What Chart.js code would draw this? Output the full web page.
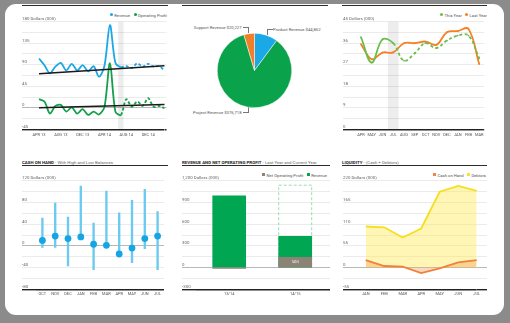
<!DOCTYPE html>
<html>
<head>
<meta charset="utf-8">
<script src="https://cdn.jsdelivr.net/npm/chart.js@4.4.1/dist/chart.umd.min.js"></script>
<style>
html, body { margin: 0; padding: 0; }
body { width: 510px; height: 323px; background: #8b8b8b; position: relative; overflow: hidden; font-family: Roboto, "Liberation Sans", sans-serif; }
#frame { position: absolute; left: 0; top: 0; width: 510px; height: 323px; background: #fff; clip-path: inset(4px 6px 8px 5px round 11px); }
canvas { position: absolute; }
.ttl { position: absolute; font-size: 4.4px; line-height: 5px; color: #666; white-space: nowrap; }
.ttl b { color: #222; }
.rule { position: absolute; height: 1.3px; background: #2b2b2b; }
.leg { position: absolute; font-size: 4.2px; line-height: 5px; color: #555; white-space: nowrap; }
.leg i { display: inline-block; width: 3px; height: 3px; border-radius: 50%; margin: 0 1.2px 0 3.5px; vertical-align: 0.1px; }
.leg i.sq { border-radius: 0; }
.pl { position: absolute; font-size: 4.2px; line-height: 5px; color: #555; white-space: nowrap; }
.ln { position: absolute; border-color: #777; border-style: solid; border-width: 0; }
</style>
</head>
<body>
<div id="frame">
  <!-- top row headers (cut by the frame) -->
  <div class="ttl" style="left:22px;top:0.3px"><b>REVENUE AND PROFIT</b> - Trend</div>
  <div class="rule" style="left:22px;top:5px;width:146px"></div>
  <div class="ttl" style="left:182px;top:0.3px"><b>REVENUE BY TYPE</b> - This Year</div>
  <div class="rule" style="left:182px;top:5px;width:146px"></div>
  <div class="ttl" style="left:343px;top:0.3px"><b>REVENUE</b> - This Year and Last Year</div>
  <div class="rule" style="left:342px;top:5px;width:145px"></div>

  <div class="leg" style="right:343px;top:12.5px"><i style="background:#1ca7e6"></i>Revenue<i style="background:#13a049"></i>Operating Profit</div>
  <div class="leg" style="right:23px;top:12.5px"><i style="background:#6abf4b"></i>This Year<i style="background:#f58025"></i>Last Year</div>

  <!-- pie callouts -->
  <div class="pl" style="right:268.5px;top:24.8px">Support Revenue $20,227</div>
  <div class="ln" style="left:242.5px;top:27.3px;width:5.5px;height:5px;border-top-width:0.6px;border-right-width:0.6px"></div>
  <div class="pl" style="left:273px;top:26.5px">Product Revenue $44,852</div>
  <div class="ln" style="left:266.5px;top:29px;width:5px;height:5px;border-top-width:0.6px;border-left-width:0.6px"></div>
  <div class="pl" style="right:268.5px;top:109.8px">Project Revenue $376,718</div>
  <div class="ln" style="left:242.5px;top:107px;width:5px;height:5.3px;border-bottom-width:0.6px;border-right-width:0.6px"></div>

  <!-- bottom row headers -->
  <div class="ttl" style="left:22px;top:159.8px"><b>CASH ON HAND</b> - With High and Low Balances</div>
  <div class="rule" style="left:22px;top:164.5px;width:146px"></div>
  <div class="ttl" style="left:182px;top:159.8px"><b>REVENUE AND NET OPERATING PROFIT</b> - Last Year and Current Year</div>
  <div class="rule" style="left:182px;top:164.5px;width:148px"></div>
  <div class="ttl" style="left:342px;top:159.8px"><b>LIQUIDITY</b> - (Cash + Debtors)</div>
  <div class="rule" style="left:342px;top:164.5px;width:145px"></div>

  <div class="leg" style="right:183px;top:172.5px"><i class="sq" style="background:#8d8276"></i>Net Operating Profit<i class="sq" style="background:#00a651"></i>Revenue</div>
  <div class="leg" style="right:24px;top:172.5px"><i class="sq" style="background:#f3844a"></i>Cash on Hand<i class="sq" style="background:#f7e23c"></i>Debtors</div>
</div>

<script>
"use strict";

// Revenue & operating profit, monthly
var revenueMonths = ['APR 13', 'MAY 13', 'JUN 13', 'JUL 13', 'AUG 13', 'SEP 13', 'OCT 13', 'NOV 13', 'DEC 13', 'JAN 14', 'FEB 14', 'MAR 14',
                     'APR 14', 'MAY 14', 'JUN 14', 'JUL 14', 'AUG 14', 'SEP 14', 'OCT 14', 'NOV 14', 'DEC 14', 'JAN 15', 'FEB 15', 'MAR 15'];
var revenue = [103, 89, 72, 86, 94, 78, 92, 78, 89, 76, 87, 65, 88, 173, 94, 85, 87, 83, 93, 86, 92, 86, 87, 78];
var operatingProfit = [18, 13, -12, 4, 6, -8, 1, -12, -3, -15, -8, -14, 2, 93, -8, -15, 18, 2, 13, 4, 20, 2, 4, -1];
var revenueTrend = [71, 88];   // first and last month
var profitTrend = [0, 7];

// Revenue by type
var revenueTypes = ['Product Revenue', 'Project Revenue', 'Support Revenue'];
var revenueByType = [44852, 376718, 20227];

// This year vs last year
var fyMonths = ['APR', 'MAY', 'JUN', 'JUL', 'AUG', 'SEP', 'OCT', 'NOV', 'DEC', 'JAN', 'FEB', 'MAR'];
var thisYear = [38.5, 27.9, 37.6, 36, 28.7, 31.8, 36, 34, 37.1, 39.2, 39.2, 29.7];
var lastYear = [35.6, 29.3, 32.1, 32.2, 36, 36, 36.7, 35.3, 40.6, 41.1, 42, 27.3];

// Cash on hand with high and low balances
var cashMonths = ['OCT', 'NOV', 'DEC', 'JAN', 'FEB', 'MAR', 'APR', 'MAY', 'JUN', 'JUL'];
var cashBalance = [10, 18, 13.5, 16.5, 3, 1, -15, -4, 13.5, 18];
var cashHigh = [51, 79, 53, 110, 42, 101, 61, 84, 104, 63];
var cashLow = [-3, -3, -37, 14, -44, 0, -15, -31, -5, -44];

// Revenue and net operating profit by year
var years = ['13/14', '14/15'];
var yearRevenue = [990, 433];
var yearProfit = [-12, 140.5];
var yearForecast = [null, 1138];

// Liquidity
var liqMonths = ['JAN', 'FEB', 'MAR', 'APR', 'MAY', 'JUN', 'JUL'];
var debtors = [104, 102, 76, 99, 192, 207, 194];
var cashOnHand = [19, 4, 2.5, -14, -2, 13, 19];

Chart.defaults.font.family = 'Roboto, "Liberation Sans", sans-serif';
Chart.defaults.font.size = 4.4;
Chart.defaults.color = '#666';
Chart.defaults.animation = false;
Chart.defaults.plugins.legend.display = false;
Chart.defaults.plugins.tooltip.enabled = false;

function makeCanvas(x, y, w, h) {
    var c = document.createElement('canvas');
    c.width = w;
    c.height = h;
    c.style.left = x + 'px';
    c.style.top = y + 'px';
    c.style.width = w + 'px';
    c.style.height = h + 'px';
    document.getElementById('frame').appendChild(c);
    return c;
}

function gridColor(min) {
    return function (c) {
        if (c.tick.value === min) return '#222';
        if (c.tick.value === 0) return '#9a9a9a';
        return '#e3e3e3';
    };
}
function gridWidth(min) {
    return function (c) { return c.tick.value === min ? 1.4 : 0.7; };
}

// y axis whose labels sit on top of the gridlines, gridlines run through the axis box
function leftAxis(min, max, step, major, topLabel, width) {
    return {
        min: min, max: max,
        afterFit: function (s) { s.width = width; },
        border: { display: false },
        grid: { color: gridColor(min), lineWidth: gridWidth(min), tickLength: width },
        ticks: {
            stepSize: step, autoSkip: false, mirror: true, crossAlign: 'near', padding: -width, labelOffset: -2.6,
            callback: function (v) {
                if (v % major !== 0) return '';
                return v === max ? topLabel : v.toLocaleString('en-US');
            }
        }
    };
}
function rightAxis(min, max, step, width) {
    return {
        position: 'right', min: min, max: max,
        afterFit: function (s) { s.width = width; },
        border: { display: false },
        grid: { drawOnChartArea: false, color: gridColor(min), lineWidth: gridWidth(min), tickLength: width },
        ticks: { stepSize: step, display: false }
    };
}
function bottomAxis(height, pad, callback) {
    var ax = {
        afterFit: function (s) { s.height = height; },
        grid: { display: false, drawTicks: false },
        border: { display: false },
        ticks: { autoSkip: false, maxRotation: 0, padding: pad, color: '#555', font: { size: 4 } }
    };
    if (callback) ax.ticks.callback = callback;
    return ax;
}

// light grey band behind one month
var bandPlugin = {
    id: 'band',
    beforeDatasetsDraw: function (chart, args, opts) {
        if (opts.index === undefined) return;
        var x = chart.scales.x, a = chart.chartArea, ctx = chart.ctx;
        var half = (x.getPixelForValue(1) - x.getPixelForValue(0)) / 2;
        var cx = x.getPixelForValue(opts.index);
        ctx.save();
        ctx.fillStyle = 'rgba(0,0,0,0.07)';
        ctx.fillRect(cx - half, a.top, half * 2, a.bottom - a.top);
        ctx.restore();
    }
};

// Chart 1 - revenue and operating profit trend
new Chart(makeCanvas(22, 14, 146, 128), {
    type: 'line',
    data: {
        labels: revenueMonths,
        datasets: [
            { data: [{ x: revenueMonths[0], y: revenueTrend[0] }, { x: revenueMonths[revenueMonths.length - 1], y: revenueTrend[1] }],
              borderColor: '#1a1a1a', borderWidth: 1.5, pointRadius: 0, order: 0 },
            { data: [{ x: revenueMonths[0], y: profitTrend[0] }, { x: revenueMonths[revenueMonths.length - 1], y: profitTrend[1] }],
              borderColor: '#1a1a1a', borderWidth: 1.5, pointRadius: 0, order: 0 },
            { label: 'Revenue', data: revenue, borderColor: '#1ca7e6', borderWidth: 1.8, pointRadius: 0, tension: 0.3, order: 1,
              segment: { borderDash: function (c) { return c.p0DataIndex >= 15 ? [3, 2] : undefined; } } },
            { label: 'Operating Profit', data: operatingProfit, borderColor: '#13a049', borderWidth: 1.8, pointRadius: 0, tension: 0.3, order: 1,
              segment: { borderDash: function (c) { return c.p0DataIndex >= 15 ? [3, 2] : undefined; } } }
        ]
    },
    options: {
        responsive: false,
        layout: { padding: { top: 7.7 } },
        plugins: { band: { index: 15 } },
        scales: {
            x: bottomAxis(12.7, 3.5, function (v, i) { return i % 4 === 0 ? this.getLabelForValue(v) : ''; }),
            y: leftAxis(-45, 180, 22.5, 45, '180 Dollars (000)', 17),
            yR: rightAxis(-45, 180, 22.5, 2)
        }
    },
    plugins: [bandPlugin]
});

// Chart 2 - revenue by type
new Chart(makeCanvas(216.5, 32.5, 75, 75), {
    type: 'pie',
    data: {
        labels: revenueTypes,
        datasets: [{ data: revenueByType, backgroundColor: ['#1aa8e6', '#0aa24a', '#f07f2a'], borderColor: '#fff', borderWidth: 0.5, hoverOffset: 0 }]
    },
    options: { responsive: false, layout: { padding: 0 } }
});

// Chart 3 - this year vs last year
new Chart(makeCanvas(343, 14, 144, 128), {
    type: 'line',
    data: {
        labels: fyMonths,
        datasets: [
            { label: 'This Year', data: thisYear, borderColor: '#6abf4b', backgroundColor: '#6abf4b', borderWidth: 1.8, pointRadius: 0.9, pointBorderWidth: 0, tension: 0.4,
              segment: { borderDash: function (c) { return c.p0DataIndex >= 3 ? [3, 2.5] : undefined; } } },
            { label: 'Last Year', data: lastYear, borderColor: '#f58025', backgroundColor: '#f58025', borderWidth: 1.8, pointRadius: 0.9, pointBorderWidth: 0, tension: 0.4 }
        ]
    },
    options: {
        responsive: false,
        layout: { padding: { top: 7.7 } },
        plugins: { band: { index: 3 } },
        scales: {
            x: bottomAxis(12.7, 3.5),
            y: leftAxis(0, 45, 4.5, 9, '45 Dollars (000)', 18),
            yR: rightAxis(0, 45, 4.5, 5)
        }
    },
    plugins: [bandPlugin]
});

// Chart 4 - cash on hand with high and low balances
new Chart(makeCanvas(22, 172, 146, 128), {
    type: 'bar',
    data: {
        labels: cashMonths,
        datasets: [
            { type: 'line', data: cashBalance, showLine: false, pointRadius: 3.4, pointBackgroundColor: '#15a5e4', pointBorderWidth: 0, order: 0 },
            { data: cashMonths.map(function (m, i) { return [cashLow[i], cashHigh[i]]; }), backgroundColor: '#6ccaf0', barThickness: 1.7, order: 1 }
        ]
    },
    options: {
        responsive: false,
        layout: { padding: { top: 8.7 } },
        scales: {
            x: bottomAxis(10.7, 2.6),
            y: leftAxis(-80, 120, 20, 40, '120 Dollars (000)', 14)
        }
    }
});

// Chart 5 - revenue and net operating profit
var dashedBoxPlugin = {
    id: 'dashedBox',
    beforeDatasetsDraw: function (chart) {
        var meta = chart.getDatasetMeta(2), ctx = chart.ctx;
        ctx.save();
        ctx.setLineDash([3, 2]);
        ctx.strokeStyle = '#8fd9a8';
        ctx.lineWidth = 0.9;
        meta.data.forEach(function (bar, i) {
            if (yearForecast[i] === null) return;
            var p = bar.getProps(['x', 'y', 'base', 'width']);
            ctx.strokeRect(p.x - p.width / 2, p.y, p.width, p.base - p.y);
        });
        ctx.restore();
    },
    afterDatasetsDraw: function (chart) {
        var meta = chart.getDatasetMeta(0), ctx = chart.ctx;
        ctx.save();
        ctx.fillStyle = '#fff';
        ctx.font = '3px Roboto, "Liberation Sans", sans-serif';
        ctx.textAlign = 'center';
        ctx.textBaseline = 'middle';
        meta.data.forEach(function (bar, i) {
            if (yearProfit[i] <= 0) return;
            var p = bar.getProps(['x', 'y', 'base']);
            ctx.fillText(yearProfit[i], p.x, (p.y + p.base) / 2);
        });
        ctx.restore();
    }
};
new Chart(makeCanvas(182, 172, 148, 128), {
    type: 'bar',
    data: {
        labels: years,
        datasets: [
            { label: 'Net Operating Profit', data: yearProfit, backgroundColor: '#8d8276', barThickness: 33, grouped: false, order: 0 },
            { label: 'Revenue', data: yearRevenue, backgroundColor: '#00a651', barThickness: 33, grouped: false, order: 1 },
            { label: 'Forecast', data: yearForecast, backgroundColor: 'rgba(0,0,0,0)', barThickness: 33, grouped: false, order: 2 }
        ]
    },
    options: {
        responsive: false,
        layout: { padding: { top: 8.7 } },
        scales: {
            x: bottomAxis(10.7, 2.6),
            y: leftAxis(-300, 1200, 150, 300, '1,200 Dollars (000)', 14.2),
            yR: rightAxis(-300, 1200, 150, 1.8)
        }
    },
    plugins: [dashedBoxPlugin]
});

// Chart 6 - liquidity
new Chart(makeCanvas(343, 172, 144, 128), {
    type: 'line',
    data: {
        labels: liqMonths,
        datasets: [
            { label: 'Cash on Hand', data: cashOnHand, borderColor: '#f0803c', backgroundColor: 'rgba(240,128,60,0.3)', borderWidth: 1.8, pointRadius: 0, fill: 'origin', order: 0 },
            { label: 'Debtors', data: debtors, borderColor: '#f5df1e', backgroundColor: 'rgba(255,236,90,0.45)', borderWidth: 1.8, pointRadius: 0, fill: 'origin', order: 1 }
        ]
    },
    options: {
        responsive: false,
        layout: { padding: { top: 8.7 } },
        scales: {
            x: bottomAxis(10.7, 2.6),
            y: leftAxis(-55, 220, 27.5, 55, '220 Dollars (000)', 22.7),
            yR: rightAxis(-55, 220, 27.5, 10.3)
        }
    }
});
</script>
</body>
</html>
